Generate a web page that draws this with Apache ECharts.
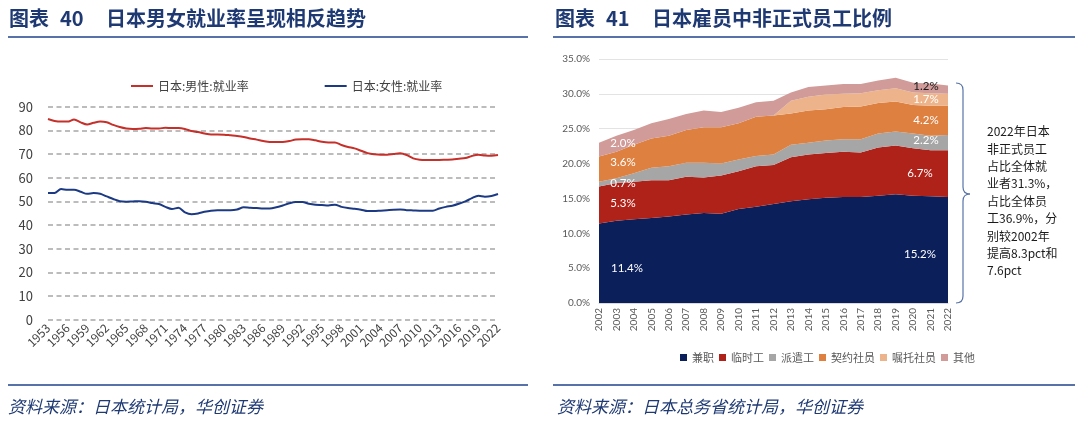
<!DOCTYPE html>
<html><head><meta charset="utf-8">
<script src="https://cdn.jsdelivr.net/npm/echarts@6/dist/echarts.min.js"></script>
<style>html,body{margin:0;padding:0;background:#fff}#c{width:1080px;height:429px}</style>
</head><body><div id="c"></div>
<script>
// ---------- Left chart data ----------
const years1 = [];
for (let y = 1953; y <= 2022; y++) years1.push(String(y));
const maleRate = [84.8,84.0,83.7,83.7,84.6,83.4,82.5,83.2,83.7,83.4,82.3,81.4,80.8,80.6,80.7,81.0,80.8,80.8,81.1,81.0,
  81.0,80.6,79.7,79.3,78.7,78.3,78.3,78.2,77.9,77.6,77.2,76.6,76.1,75.5,75.1,75.1,
  75.1,75.5,76.1,76.3,76.3,75.8,75.2,74.9,74.9,73.8,73.0,72.4,71.4,70.4,69.9,69.7,69.7,70.0,70.3,69.6,
  68.2,67.6,67.5,67.5,67.5,67.6,67.7,68.0,68.3,69.2,69.7,69.4,69.3,69.6];
const femaleRate = [53.5,53.5,55.2,54.9,54.9,54.1,53.2,53.5,53.2,52.1,51.0,50.1,49.9,50.0,50.1,49.9,49.3,48.9,47.7,46.8,
  47.3,45.4,44.6,44.9,45.6,46.1,46.3,46.3,46.3,46.6,47.5,47.3,47.2,47.0,47.0,47.5,
  48.3,49.2,49.7,49.7,49.0,48.6,48.5,48.3,48.6,47.7,47.2,46.9,46.5,45.9,45.9,46.1,46.3,46.5,46.6,46.3,
  46.2,46.1,46.1,46.1,47.0,47.7,48.2,49.0,50.0,51.4,52.4,52.0,52.3,53.1];
const leftNames = ['日本:男性:就业率', '日本:女性:就业率'];

// ---------- Right chart data ----------
const years2 = ['2002','2003','2004','2005','2006','2007','2008','2009','2010','2011','2012','2013','2014','2015','2016','2017','2018','2019','2020','2021','2022'];
const partTime  = [11.4,11.8,12.0,12.2,12.4,12.7,12.9,12.8,13.5,13.8,14.2,14.6,14.9,15.1,15.2,15.2,15.4,15.6,15.4,15.3,15.2];
const tempWork  = [5.3,5.4,5.4,5.4,5.2,5.4,5.1,5.5,5.4,5.8,5.6,6.3,6.4,6.4,6.5,6.4,6.9,7.0,6.8,6.6,6.7];
const dispatch  = [0.7,0.7,1.2,1.8,2.0,2.0,2.1,1.7,1.7,1.5,1.5,1.8,1.7,1.8,1.8,1.9,2.0,2.0,2.1,2.1,2.2];
const contract  = [3.6,3.8,4.1,4.2,4.4,4.7,5.1,5.2,5.2,5.6,5.6,4.5,4.6,4.5,4.6,4.7,4.4,4.3,4.1,4.3,4.2];
const entrusted = [0,0,0,0,0,0,0,0,0,0,0,1.8,2.0,2.1,1.9,1.9,1.8,1.9,1.8,1.8,1.7];
const others    = [2.0,2.3,2.1,2.2,2.4,2.3,2.4,2.2,2.2,2.1,2.1,1.2,1.4,1.3,1.4,1.3,1.4,1.5,1.4,1.4,1.2];
const rightNames = ['兼职','临时工','派遣工','契约社员','嘱托社员','其他'];
const rightTicks = [0,5,10,15,20,25,30,35];

const rightSeriesData = [partTime, tempWork, dispatch, contract, entrusted, others];
const rightColors = ['#0B1F5B','#AF2219','#A6A6A6','#DD8040','#EDB48B','#D09B98'];

const CJK = '"Noto Sans CJK SC", sans-serif';
const NUM = 'Lato, "Noto Sans CJK SC", sans-serif';
const titleColor = '#1F3A73';
const ruleColor = '#5672A8';

const chart = echarts.init(document.getElementById('c'), null, {renderer: 'canvas'});

const staticGraphic = [
  {type: 'text', id: 't1', left: 9, top: 8, style: {text: '图表', fontSize: 20, fontWeight: 'bold', fill: titleColor, fontFamily: CJK}},
  {type: 'text', id: 't2', left: 60, top: 8, style: {text: '40', fontSize: 20, fontWeight: 'bold', fill: titleColor, fontFamily: CJK}},
  {type: 'text', id: 't3', left: 106, top: 8, style: {text: '日本男女就业率呈现相反趋势', fontSize: 20, fontWeight: 'bold', fill: titleColor, fontFamily: CJK}},
  {type: 'text', id: 't4', left: 555, top: 8, style: {text: '图表', fontSize: 20, fontWeight: 'bold', fill: titleColor, fontFamily: CJK}},
  {type: 'text', id: 't5', left: 606, top: 8, style: {text: '41', fontSize: 20, fontWeight: 'bold', fill: titleColor, fontFamily: CJK}},
  {type: 'text', id: 't6', left: 652, top: 8, style: {text: '日本雇员中非正式员工比例', fontSize: 20, fontWeight: 'bold', fill: titleColor, fontFamily: CJK}},
  {type: 'rect', id: 'r1', shape: {x: 8, y: 36, width: 520, height: 2}, style: {fill: ruleColor}},
  {type: 'rect', id: 'r2', shape: {x: 553, y: 36, width: 522, height: 2}, style: {fill: ruleColor}},
  {type: 'rect', id: 'r3', shape: {x: 8, y: 384, width: 520, height: 2}, style: {fill: ruleColor}},
  {type: 'rect', id: 'r4', shape: {x: 553, y: 384, width: 522, height: 2}, style: {fill: ruleColor}},
  {type: 'text', id: 'f1', left: 8, top: 398, style: {text: '资料来源：日本统计局，华创证券', fontSize: 17, fontStyle: 'italic', fill: titleColor, fontFamily: CJK}},
  {type: 'text', id: 'f2', left: 557, top: 398, style: {text: '资料来源：日本总务省统计局，华创证券', fontSize: 17, fontStyle: 'italic', fill: titleColor, fontFamily: CJK}},
  {type: 'bezierCurve', id: 'b1', shape: {x1: 956, y1: 83, x2: 963, y2: 90, cpx1: 963, cpy1: 83}, style: {stroke: ruleColor, lineWidth: 1.2, fill: null}},
  {type: 'line', id: 'b2', shape: {x1: 963, y1: 90, x2: 963, y2: 187}, style: {stroke: ruleColor, lineWidth: 1.2}},
  {type: 'bezierCurve', id: 'b3', shape: {x1: 963, y1: 187, x2: 970, y2: 194, cpx1: 963, cpy1: 194}, style: {stroke: ruleColor, lineWidth: 1.2, fill: null}},
  {type: 'bezierCurve', id: 'b4', shape: {x1: 970, y1: 194, x2: 963, y2: 201, cpx1: 963, cpy1: 194}, style: {stroke: ruleColor, lineWidth: 1.2, fill: null}},
  {type: 'line', id: 'b5', shape: {x1: 963, y1: 201, x2: 963, y2: 296}, style: {stroke: ruleColor, lineWidth: 1.2}},
  {type: 'bezierCurve', id: 'b6', shape: {x1: 963, y1: 296, x2: 956, y2: 303, cpx1: 963, cpy1: 303}, style: {stroke: ruleColor, lineWidth: 1.2, fill: null}},
  {type: 'text', id: 'ann', left: 987, top: 123, style: {
    text: '2022年日本\n非正式员工\n占比全体就\n业者31.3%，\n占比全体员\n工36.9%，分\n别较2002年\n提高8.3pct和\n7.6pct',
    fontSize: 12, lineHeight: 17.4, fill: '#1A1A1A', fontFamily: CJK}}
];

const option = {
  backgroundColor: '#fff',
  animation: false,
  textStyle: {fontFamily: CJK},
  legend: [
    {
      data: leftNames, left: 126, top: 75, itemWidth: 22, itemHeight: 2, itemGap: 76, icon: 'rect',
      textStyle: {fontSize: 12, color: '#404040', fontFamily: CJK}
    },
    {
      data: rightNames, left: 675, top: 347, itemWidth: 7, itemHeight: 7, itemGap: 5, icon: 'rect',
      textStyle: {fontSize: 11, color: '#595959', fontFamily: CJK}
    }
  ],
  grid: [
    {left: 48, right: 582, top: 106.7, bottom: 109.2, containLabel: false},
    {left: 599, right: 132, top: 59, bottom: 126, containLabel: false}
  ],
  xAxis: [
    {
      type: 'category', gridIndex: 0, data: years1, boundaryGap: false,
      axisLine: {show: false}, axisTick: {show: false},
      axisLabel: {interval: 2, rotate: 45, fontSize: 12, color: '#404040', margin: 6, fontFamily: CJK}
    },
    {
      type: 'category', gridIndex: 1, data: years2, boundaryGap: false,
      axisLine: {show: true, lineStyle: {color: '#D9D9D9'}}, axisTick: {show: false},
      axisLabel: {interval: 0, rotate: 90, fontSize: 10, color: '#595959', margin: 5, fontFamily: NUM}
    }
  ],
  yAxis: [
    {
      type: 'value', gridIndex: 0, min: 0, max: 90, interval: 10,
      axisLine: {show: false}, axisTick: {show: false},
      axisLabel: {fontSize: 13, color: '#404040', margin: 15, fontFamily: CJK},
      splitLine: {show: true, lineStyle: {color: '#A6A6A6', type: [5, 3.5], width: 1.6}}
    },
    {
      type: 'value', gridIndex: 1, min: rightTicks[0], max: rightTicks[rightTicks.length-1], interval: 5,
      axisLine: {show: false}, axisTick: {show: false},
      axisLabel: {fontSize: 10, color: '#595959', margin: 9, fontFamily: NUM,
        formatter: v => v.toFixed(1) + '%'},
      splitLine: {show: true, lineStyle: {color: '#E3E3E3', width: 1}}
    }
  ],
  series: [
    {
      name: leftNames[0], type: 'line', xAxisIndex: 0, yAxisIndex: 0, data: maleRate,
      symbol: 'none', smooth: 0.3, lineStyle: {color: '#C5302A', width: 2}, itemStyle: {color: '#C5302A'}
    },
    {
      name: leftNames[1], type: 'line', xAxisIndex: 0, yAxisIndex: 0, data: femaleRate,
      symbol: 'none', smooth: 0.3, lineStyle: {color: '#1C3A84', width: 2}, itemStyle: {color: '#1C3A84'}
    }
  ].concat(rightNames.map((n, i) => ({
    name: n, type: 'line', xAxisIndex: 1, yAxisIndex: 1, stack: 'total',
    data: rightSeriesData[i], symbol: 'none',
    lineStyle: {width: 0}, itemStyle: {color: rightColors[i]},
    areaStyle: {color: rightColors[i], opacity: 1}
  }))),
  graphic: staticGraphic
};
chart.setOption(option);

// Data labels on the stacked areas (first and last year), placed via the chart's own scales
function cumBefore(i, idx) { let s = 0; for (let k = 0; k < i; k++) s += rightSeriesData[k][idx]; return s; }
const leftDy = [5, -2, -1, -7, 0, -6];
const rightDy = [4, 0, -2, 0, 0, -3];
const labelEls = [];
rightSeriesData.forEach((arr, i) => {
  const v0 = arr[0];
  if (v0 > 0) {
    const mid = cumBefore(i, 0) + v0 / 2;
    const p = chart.convertToPixel({xAxisIndex: 1, yAxisIndex: 1}, [0, mid]);
    labelEls.push({type: 'text', id: 'lab_l' + i, z: 100, x: p[0] + 24 + (i === 0 ? 4 : 0), y: p[1] + leftDy[i],
      style: {text: v0.toFixed(1) + '%', fontSize: 11.5, fill: '#fff', fontFamily: NUM, align: 'center', verticalAlign: 'middle'}});
  }
  const last = arr.length - 1;
  const vl = arr[last];
  if (vl > 0) {
    const mid = cumBefore(i, last) + vl / 2;
    const p = chart.convertToPixel({xAxisIndex: 1, yAxisIndex: 1}, [last, mid]);
    labelEls.push({type: 'text', id: 'lab_r' + i, z: 100, x: p[0] - (i <= 1 ? 28 : 22), y: p[1] + rightDy[i],
      style: {text: vl.toFixed(1) + '%', fontSize: 11.5, fill: i === 5 ? '#1A1A1A' : '#fff', fontFamily: NUM, align: 'center', verticalAlign: 'middle'}});
  }
});
chart.setOption({graphic: staticGraphic.concat(labelEls)}, {replaceMerge: ['graphic']});
</script>
</body></html>
